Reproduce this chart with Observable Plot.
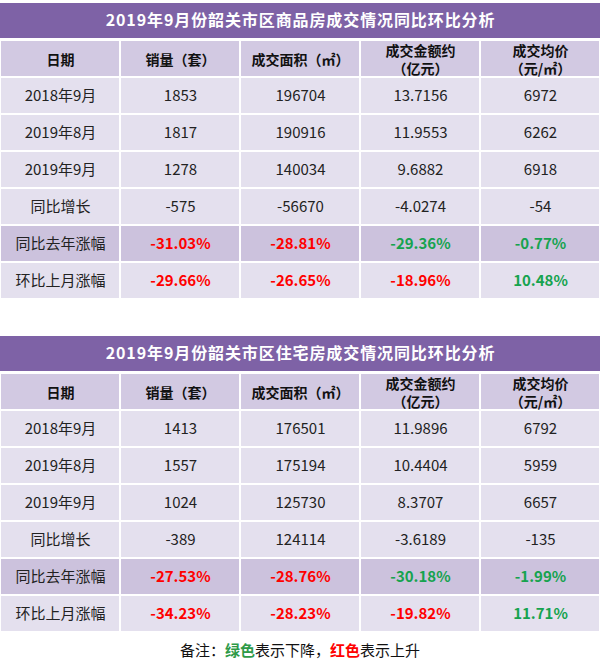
<!DOCTYPE html>
<html>
<head>
<meta charset="utf-8">
<script src="https://cdn.jsdelivr.net/npm/d3@7"></script>
<script src="https://cdn.jsdelivr.net/npm/@observablehq/plot@0.6"></script>
<style>
  html, body { margin: 0; padding: 0; background: #fff; }
  body { width: 600px; font-family: "Noto Sans CJK SC", "Noto Sans", sans-serif; }
  #note { text-align: center; font-size: 15px; height: 27px; line-height: 27px; color: #111; }
  #note .g { color: #2e9a48; font-weight: bold; }
  #note .r { color: #ff0000; font-weight: bold; }
</style>
</head>
<body>
<div id="chart"></div>
<div id="note">备注：<span class="g">绿色</span>表示下降，<span class="r">红色</span>表示上升</div>
<script>
// ---- data ----
const titles = [
  "2019年9月份韶关市区商品房成交情况同比环比分析",
  "2019年9月份韶关市区住宅房成交情况同比环比分析"
];
const columns = ["日期", "销量（套）", "成交面积（㎡）", "成交金额约\n（亿元）", "成交均价\n（元/㎡）"];
const rowLabels = ["2018年9月", "2019年8月", "2019年9月", "同比增长", "同比去年涨幅", "环比上月涨幅"];

// table 1: 商品房
const sales1  = ["1853", "1817", "1278", "-575", "-31.03%", "-29.66%"];
const area1   = ["196704", "190916", "140034", "-56670", "-28.81%", "-26.65%"];
const amount1 = ["13.7156", "11.9553", "9.6882", "-4.0274", "-29.36%", "-18.96%"];
const price1  = ["6972", "6262", "6918", "-54", "-0.77%", "10.48%"];

// table 2: 住宅房
const sales2  = ["1413", "1557", "1024", "-389", "-27.53%", "-34.23%"];
const area2   = ["176501", "175194", "125730", "124114", "-28.76%", "-28.23%"];
const amount2 = ["11.9896", "10.4404", "8.3707", "-3.6189", "-30.18%", "-19.82%"];
const price2  = ["6792", "5959", "6657", "-135", "-1.99%", "11.71%"];

// colour key of the two percentage rows (per column 销量, 面积, 金额, 均价)
const pctColors1 = [["red", "red", "green", "green"], ["red", "red", "red", "green"]];
const pctColors2 = [["red", "red", "green", "green"], ["red", "red", "red", "green"]];

// ---- build table ----
const tables = [
  {title: titles[0], cols: [sales1, area1, amount1, price1], pct: pctColors1},
  {title: titles[1], cols: [sales2, area2, amount2, price2], pct: pctColors2}
];

const yDomain = [];
const titleRows = [];
const headerCells = [];
const bodyCells = [];

tables.forEach((t, ti) => {
  if (ti > 0) yDomain.push("gap" + ti);
  const tRow = "t" + ti, hRow = "h" + ti;
  yDomain.push(tRow, hRow);
  titleRows.push({row: tRow, title: t.title});
  columns.forEach(c => headerCells.push({row: hRow, col: c, text: c}));
  rowLabels.forEach((lab, ri) => {
    const row = ti + "-" + ri;
    yDomain.push(row);
    const isPct = ri >= 4;
    const shade = ri === 4 ? "hi" : "body";
    bodyCells.push({row, col: columns[0], text: lab, shade, isPct: false});
    t.cols.forEach((vals, ci) => {
      const cell = {row, col: columns[ci + 1], text: vals[ri], shade, isPct};
      if (isPct) cell.tone = t.pct[ri - 4][ci];
      bodyCells.push(cell);
    });
  });
});

const fills = {body: "#e4e0ee", hi: "#ccc2dd"};
const tones = {red: "#ff0000", green: "#16a34f"};

const plot = Plot.plot({
  width: 600,
  height: 636,
  marginTop: 2,
  marginBottom: 3,
  marginLeft: 0,
  marginRight: 0,
  x: {domain: columns, axis: null, padding: 0},
  y: {domain: yDomain, axis: null, padding: 0},
  color: {type: "identity"},
  style: {fontFamily: "'Noto Sans CJK SC', 'Noto Sans', sans-serif", background: "#fff"},
  marks: [
    Plot.cell(titleRows, {y: "row", fill: "#7e62a6", insetTop: 0, insetBottom: 2}),
    Plot.cell(headerCells, {x: "col", y: "row", fill: "#d2c9e2", inset: 1}),
    Plot.cell(bodyCells, {x: "col", y: "row", fill: d => fills[d.shade], inset: 1}),
    Plot.text(titleRows, {y: "row", text: "title", fill: "white", fontWeight: "bold", fontSize: 16, dy: -1}),
    Plot.text(headerCells, {x: "col", y: "row", text: "text", fill: "#111", fontWeight: "bold", fontSize: 14, lineHeight: 1.3}),
    Plot.text(bodyCells.filter(d => !d.isPct), {x: "col", y: "row", text: "text", fill: "#222", fontSize: 15}),
    Plot.text(bodyCells.filter(d => d.isPct), {x: "col", y: "row", text: "text", fill: d => tones[d.tone], fontWeight: "bold", fontSize: 15})
  ]
});
// widen the letter spacing of the white title texts
d3.select(plot).selectAll("g[fill='white'] text").style("letter-spacing", "0.9px");
document.getElementById("chart").appendChild(plot);
</script>
</body>
</html>
